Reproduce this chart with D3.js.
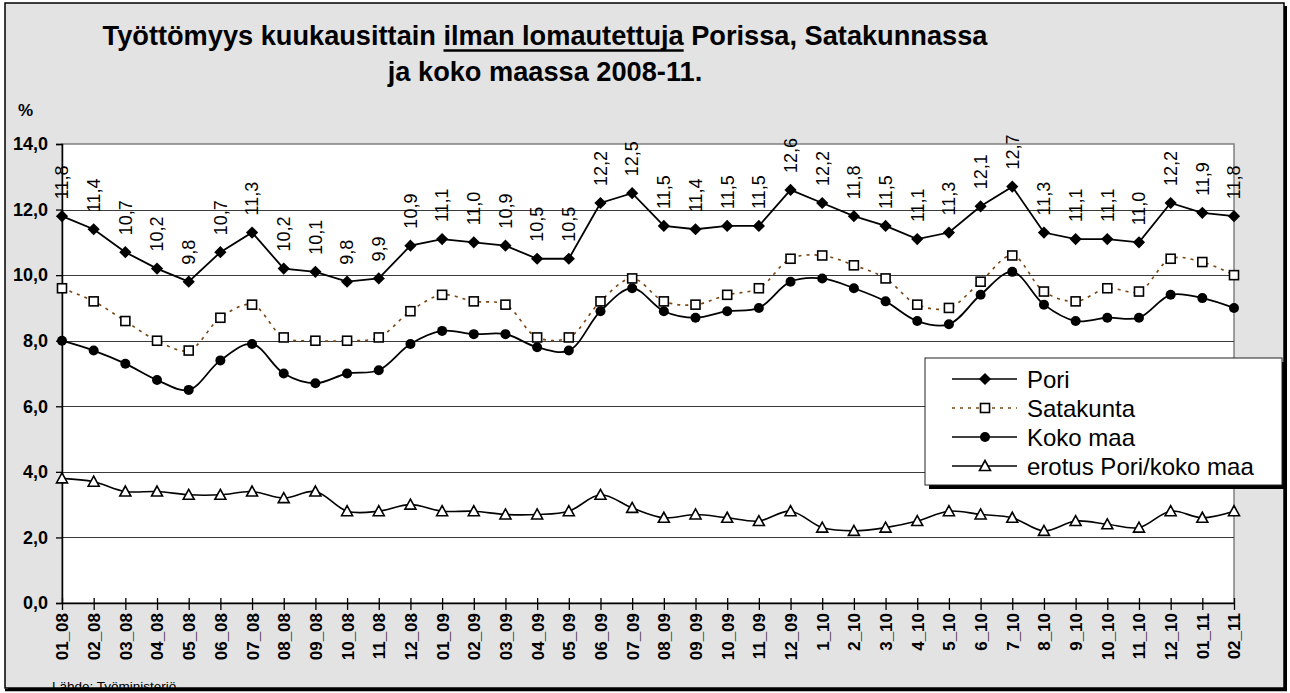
<!DOCTYPE html>
<html lang="fi">
<head>
<meta charset="UTF-8">
<title>Työttömyys kuukausittain</title>
<style>
  body { margin: 0; background: #fff; }
  svg { display: block; font-family: "Liberation Sans", Arial, sans-serif; }
</style>
</head>
<body>
<svg id="chart"></svg>
<script src="https://d3js.org/d3.v7.min.js"></script>
<script>
// data
const months = ["01_08","02_08","03_08","04_08","05_08","06_08","07_08","08_08","09_08","10_08","11_08","12_08",
  "01_09","02_09","03_09","04_09","05_09","06_09","07_09","08_09","09_09","10_09","11_09","12_09",
  "1_10","2_10","3_10","4_10","5_10","6_10","7_10","8_10","9_10","10_10","11_10","12_10",
  "01_11","02_11"];
const pori = [11.8,11.4,10.7,10.2,9.8,10.7,11.3,10.2,10.1,9.8,9.9,10.9,
  11.1,11.0,10.9,10.5,10.5,12.2,12.5,11.5,11.4,11.5,11.5,12.6,
  12.2,11.8,11.5,11.1,11.3,12.1,12.7,11.3,11.1,11.1,11.0,12.2,
  11.9,11.8];
const satakunta = [9.6,9.2,8.6,8.0,7.7,8.7,9.1,8.1,8.0,8.0,8.1,8.9,
  9.4,9.2,9.1,8.1,8.1,9.2,9.9,9.2,9.1,9.4,9.6,10.5,
  10.6,10.3,9.9,9.1,9.0,9.8,10.6,9.5,9.2,9.6,9.5,10.5,
  10.4,10.0];
const kokoMaa = [8.0,7.7,7.3,6.8,6.5,7.4,7.9,7.0,6.7,7.0,7.1,7.9,
  8.3,8.2,8.2,7.8,7.7,8.9,9.6,8.9,8.7,8.9,9.0,9.8,
  9.9,9.6,9.2,8.6,8.5,9.4,10.1,9.1,8.6,8.7,8.7,9.4,
  9.3,9.0];
const erotus = [3.8,3.7,3.4,3.4,3.3,3.3,3.4,3.2,3.4,2.8,2.8,3.0,
  2.8,2.8,2.7,2.7,2.8,3.3,2.9,2.6,2.7,2.6,2.5,2.8,
  2.3,2.2,2.3,2.5,2.8,2.7,2.6,2.2,2.5,2.4,2.3,2.8,
  2.6,2.8];
const yTicks = [0,2,4,6,8,10,12,14];
const seriesNames = ["Pori","Satakunta","Koko maa","erotus Pori/koko maa"];

const W = 1290, H = 693;
const plot = { left: 62, right: 1234, top: 144, bottom: 603 };
const fmt = v => d3.format(".1f")(v).replace(".", ",");

const svg = d3.select("#chart").attr("width", W).attr("height", H);

// outer frame with shadow
svg.append("rect").attr("x", 8).attr("y", 6).attr("width", 1279).attr("height", 685).attr("fill", "#000");
svg.append("rect").attr("x", 5).attr("y", 3).attr("width", 1279).attr("height", 685)
  .attr("fill", "#e3e3e3").attr("stroke", "#000").attr("stroke-width", 1.5);

// title
const title = svg.append("text")
  .attr("x", 545).attr("y", 45)
  .attr("text-anchor", "middle")
  .attr("font-size", 27.2).attr("font-weight", "bold");
title.append("tspan").text("Työttömyys kuukausittain ");
title.append("tspan").text("ilman lomautettuja");
title.append("tspan").text(" Porissa, Satakunnassa");
svg.append("text")
  .attr("x", 545).attr("y", 81)
  .attr("text-anchor", "middle")
  .attr("font-size", 27.2).attr("font-weight", "bold")
  .text("ja koko maassa 2008-11.");

// underline under "ilman lomautettuja"
const tNode = title.node();
const start = "Työttömyys kuukausittain ".length;
const end = start + "ilman lomautettuja".length - 1;
const ux0 = tNode.getStartPositionOfChar(start).x;
const ux1 = tNode.getEndPositionOfChar(end).x;
svg.append("line").attr("x1", ux0).attr("x2", ux1).attr("y1", 50.5).attr("y2", 50.5)
  .attr("stroke", "#000").attr("stroke-width", 2.6);

svg.append("text").attr("x", 18).attr("y", 116)
  .attr("font-size", 17).attr("font-weight", "bold").text("%");

// scales
const x = d3.scalePoint().domain(months).range([plot.left, plot.right]);
const y = d3.scaleLinear().domain([0, 14]).range([plot.bottom, plot.top]);

// plot area
svg.append("rect").attr("x", plot.left).attr("y", plot.top)
  .attr("width", plot.right - plot.left).attr("height", plot.bottom - plot.top)
  .attr("fill", "#fff").attr("stroke", "#808080").attr("stroke-width", 1.5);

// gridlines
svg.append("g").selectAll("line").data(yTicks.filter(d => d > 0 && d < 14)).join("line")
  .attr("x1", plot.left).attr("x2", plot.right)
  .attr("y1", d => Math.round(y(d)) + 0.5).attr("y2", d => Math.round(y(d)) + 0.5)
  .attr("stroke", "#3a3a3a").attr("stroke-width", 1.2);

// y axis
const yAxis = svg.append("g").attr("transform", `translate(${plot.left},0)`)
  .call(d3.axisLeft(y).tickValues(yTicks).tickFormat(fmt).tickSize(6).tickPadding(8));
yAxis.select(".domain").attr("stroke", "#000").attr("stroke-width", 1.5);
yAxis.selectAll(".tick line").attr("stroke", "#000").attr("stroke-width", 1.3);
yAxis.selectAll(".tick text")
  .attr("font-family", "Liberation Sans, Arial, sans-serif")
  .attr("font-size", 18).attr("font-weight", "bold").attr("fill", "#000");

// x axis
const xAxis = svg.append("g").attr("transform", `translate(0,${plot.bottom})`)
  .call(d3.axisBottom(x).tickSize(0).tickSizeOuter(0));
xAxis.select(".domain").attr("stroke", "#000").attr("stroke-width", 1.5);
xAxis.selectAll(".tick line").attr("y1", -5).attr("y2", 7).attr("stroke", "#000").attr("stroke-width", 1.3);
xAxis.selectAll(".tick text")
  .attr("font-family", "Liberation Sans, Arial, sans-serif")
  .attr("font-size", 17).attr("font-weight", "bold").attr("fill", "#000")
  .attr("text-anchor", "end").attr("dy", "0.35em")
  .attr("transform", "translate(0,10) rotate(-90)")
  .attr("x", 0).attr("y", 0);

// series
const smooth = d3.curveCatmullRom.alpha(0.5);
const lineOf = (vals, curve) => d3.line()
  .x((d, i) => x(months[i])).y(d => y(d)).curve(curve)(vals);

svg.append("path").attr("d", lineOf(erotus, smooth))
  .attr("fill", "none").attr("stroke", "#000").attr("stroke-width", 1.6);
svg.append("path").attr("d", lineOf(kokoMaa, smooth))
  .attr("fill", "none").attr("stroke", "#000").attr("stroke-width", 1.8);
svg.append("path").attr("d", lineOf(satakunta, smooth))
  .attr("fill", "none").attr("stroke", "#7a4510").attr("stroke-width", 1.6)
  .attr("stroke-dasharray", "3,5");
svg.append("path").attr("d", lineOf(pori, d3.curveLinear))
  .attr("fill", "none").attr("stroke", "#000").attr("stroke-width", 1.8);

// markers
const diamond = d3.symbol().type(d3.symbolDiamond2).size(95)();
const tri = "M0,-5.5L5.5,4.5L-5.5,4.5Z";

function drawTri(g, cx, cy) {
  g.append("path").attr("d", tri).attr("transform", `translate(${cx},${cy})`)
    .attr("fill", "#fff").attr("stroke", "#000").attr("stroke-width", 1.6);
}
function drawSquare(g, cx, cy) {
  g.append("rect").attr("x", cx - 4.5).attr("y", cy - 4.5).attr("width", 9).attr("height", 9)
    .attr("fill", "#fff").attr("stroke", "#000").attr("stroke-width", 1.6);
}
function drawCircle(g, cx, cy) {
  g.append("circle").attr("cx", cx).attr("cy", cy).attr("r", 5).attr("fill", "#000");
}
function drawDiamond(g, cx, cy) {
  g.append("path").attr("d", diamond).attr("transform", `translate(${cx},${cy})`).attr("fill", "#000");
}

const mk = svg.append("g");
erotus.forEach((v, i) => drawTri(mk, x(months[i]), y(v)));
satakunta.forEach((v, i) => drawSquare(mk, x(months[i]), y(v)));
kokoMaa.forEach((v, i) => drawCircle(mk, x(months[i]), y(v)));
pori.forEach((v, i) => drawDiamond(mk, x(months[i]), y(v)));

// data labels for Pori
svg.append("g").selectAll("text").data(pori).join("text")
  .attr("transform", (d, i) => `translate(${x(months[i])},${y(d) - 17}) rotate(-90)`)
  .attr("dy", "0.35em")
  .attr("font-size", 18).attr("fill", "#000")
  .text(d => fmt(d));

// legend
const lg = svg.append("g");
lg.append("rect").attr("x", 929).attr("y", 362).attr("width", 357).attr("height", 127).attr("fill", "#000");
lg.append("rect").attr("x", 925).attr("y", 358).attr("width", 357).attr("height", 127)
  .attr("fill", "#fff").attr("stroke", "#222").attr("stroke-width", 1);
const legendY = [379, 408, 437, 466];
seriesNames.forEach((name, i) => {
  const ly = legendY[i];
  const ln = lg.append("line").attr("x1", 952).attr("x2", 1017).attr("y1", ly).attr("y2", ly)
    .attr("stroke", i === 1 ? "#7a4510" : "#000").attr("stroke-width", 1.6);
  if (i === 1) ln.attr("stroke-dasharray", "3,5");
  if (i === 0) drawDiamond(lg, 985, ly);
  if (i === 1) drawSquare(lg, 985, ly);
  if (i === 2) drawCircle(lg, 985, ly);
  if (i === 3) drawTri(lg, 985, ly);
  lg.append("text").attr("x", 1027).attr("y", ly + 8.5)
    .attr("font-size", 24).attr("fill", "#000").text(name);
});

// source line, its lower edge is hidden by the frame as in the original
svg.append("text").attr("x", 52).attr("y", 690.5)
  .attr("font-size", 13.5).attr("fill", "#000").text("Lähde: Työministeriö.");
svg.append("rect").attr("x", 5).attr("y", 689).attr("width", 1282).attr("height", 4).attr("fill", "#fff");
svg.append("line").attr("x1", 5).attr("x2", 1287).attr("y1", 690).attr("y2", 690)
  .attr("stroke", "#000").attr("stroke-width", 2.5);
</script>
</body>
</html>
